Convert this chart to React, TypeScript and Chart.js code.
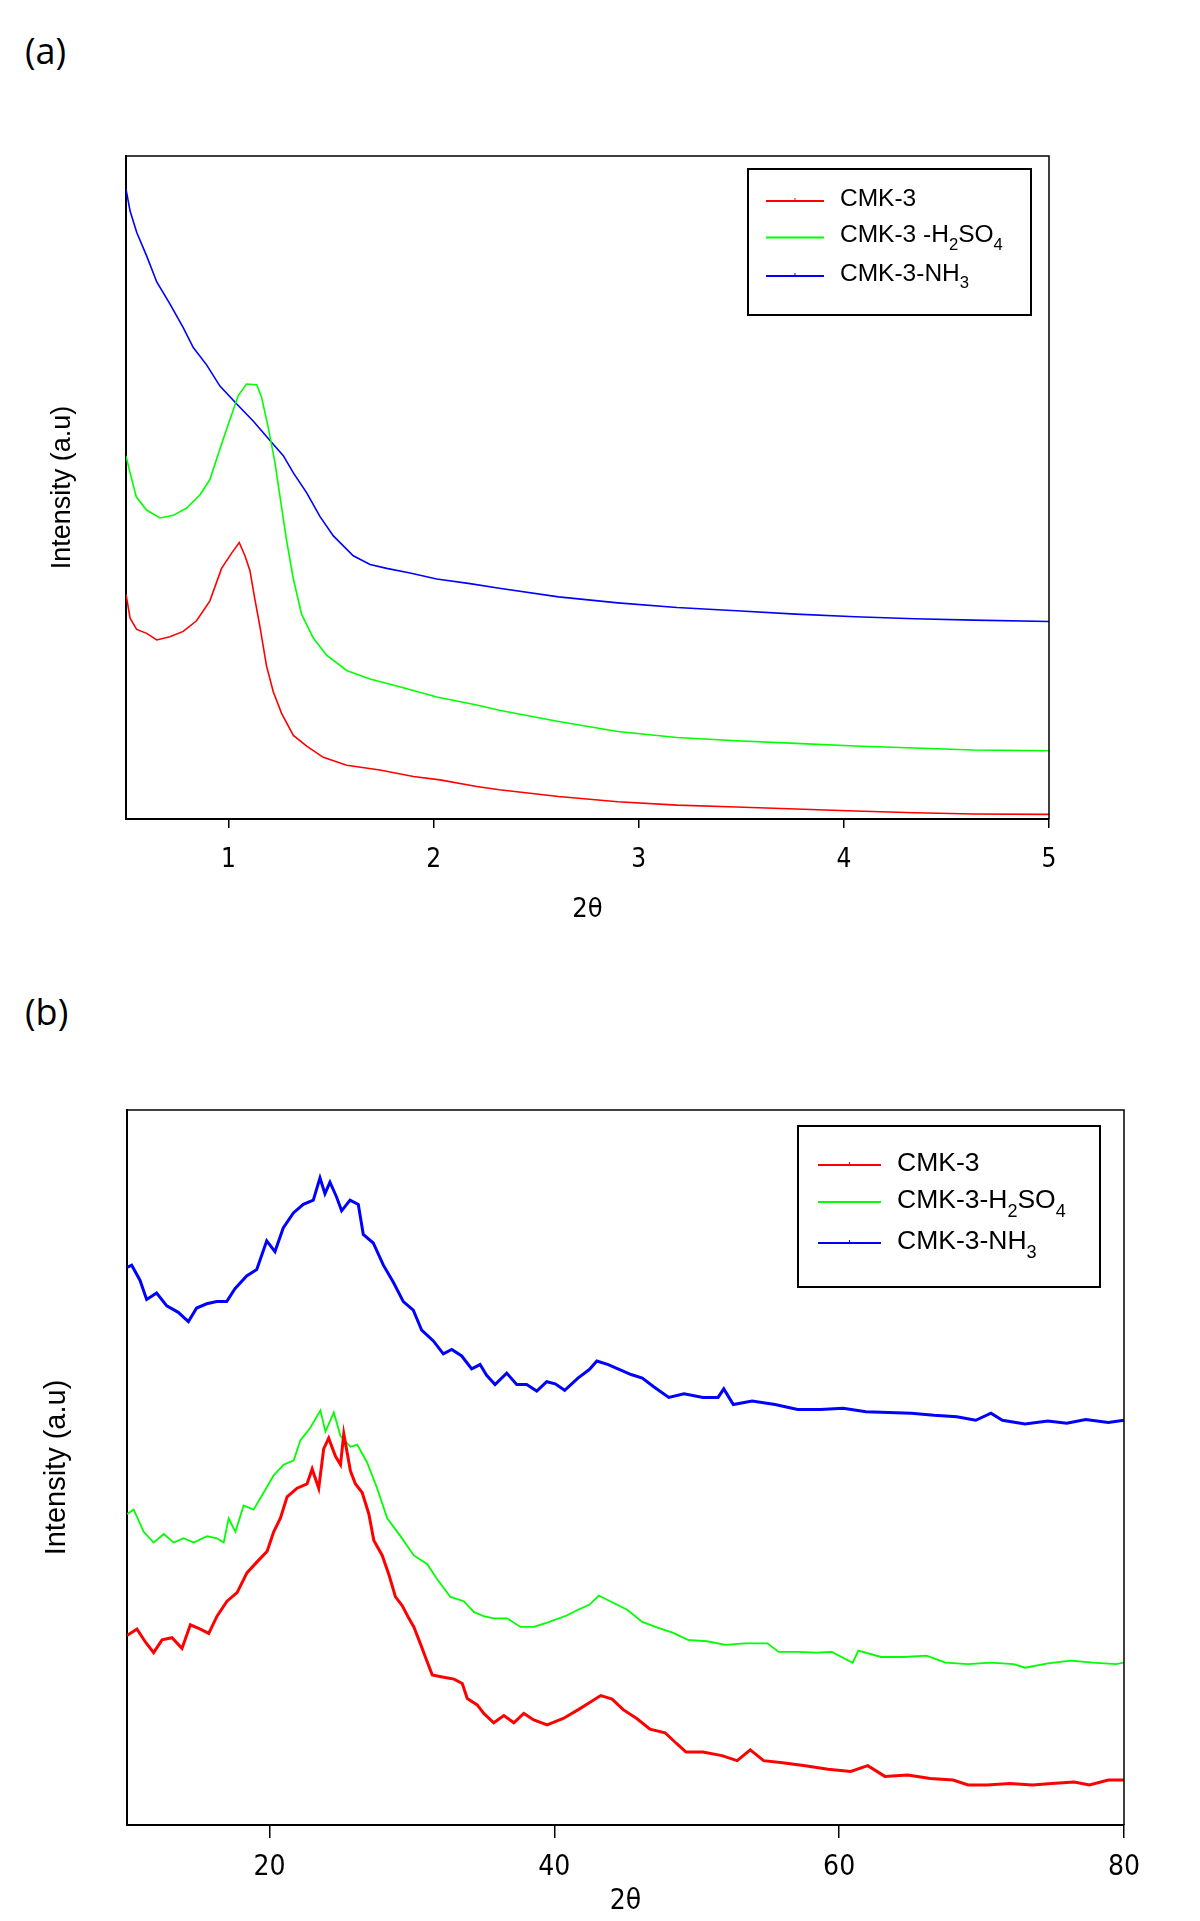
import React, { useEffect, useRef } from "react";
import { Chart, registerables } from "chart.js";

Chart.register(...registerables);

// ---------- Panel (a): low-angle XRD ----------
const aLabels = ["CMK-3", "CMK-3 -H₂SO₄", "CMK-3-NH₃"];
const aXTicks = [1, 2, 3, 4, 5];

const aRedX = [0.5, 0.52, 0.552, 0.601, 0.65, 0.714, 0.779, 0.844, 0.909, 0.966, 1.015, 1.052, 1.08, 1.104, 1.128, 1.153, 1.185, 1.218, 1.259, 1.316, 1.381, 1.462, 1.576, 1.738, 1.901, 2.031, 2.21, 2.32, 2.609, 2.898, 3.186, 3.476, 3.766, 4.055, 4.344, 4.633, 5.0];
const aRedY = [33.9, 30.3, 28.6, 28.0, 27.0, 27.5, 28.3, 29.9, 32.9, 37.8, 40.1, 41.7, 39.7, 37.5, 33.2, 29.0, 23.1, 19.2, 15.9, 12.6, 11.0, 9.3, 8.1, 7.4, 6.4, 5.9, 4.9, 4.4, 3.4, 2.6, 2.1, 1.8, 1.5, 1.2, 0.95, 0.75, 0.7];

const aGreenX = [0.5, 0.52, 0.55, 0.6, 0.666, 0.731, 0.796, 0.861, 0.909, 0.958, 1.007, 1.048, 1.088, 1.137, 1.161, 1.194, 1.226, 1.251, 1.283, 1.316, 1.356, 1.413, 1.478, 1.576, 1.69, 1.852, 2.015, 2.21, 2.32, 2.609, 2.898, 3.186, 3.476, 3.766, 4.055, 4.344, 4.633, 5.0];
const aGreenY = [54.8, 52.2, 48.6, 46.6, 45.4, 45.8, 46.9, 48.9, 51.2, 55.8, 60.3, 63.9, 65.6, 65.5, 63.6, 59.0, 53.8, 48.6, 42.0, 36.2, 30.9, 27.3, 24.7, 22.4, 21.1, 19.8, 18.4, 17.2, 16.4, 14.7, 13.2, 12.3, 11.8, 11.4, 11.0, 10.7, 10.4, 10.3];

const aBlueX = [0.5, 0.52, 0.552, 0.601, 0.65, 0.714, 0.779, 0.828, 0.893, 0.958, 1.04, 1.121, 1.202, 1.267, 1.316, 1.381, 1.446, 1.511, 1.608, 1.69, 1.771, 1.885, 2.015, 2.177, 2.32, 2.609, 2.898, 3.186, 3.476, 3.766, 4.055, 4.344, 4.633, 5.0];
const aBlueY = [95.0, 91.7, 88.5, 84.9, 81.0, 77.7, 74.1, 71.1, 68.5, 65.3, 62.6, 60.0, 57.1, 54.8, 52.2, 49.2, 45.6, 42.7, 39.7, 38.4, 37.8, 37.1, 36.2, 35.5, 34.8, 33.5, 32.6, 31.9, 31.4, 30.9, 30.5, 30.2, 30.0, 29.8];

// ---------- Panel (b): wide-angle XRD ----------
const bLabels = ["CMK-3", "CMK-3-H₂SO₄", "CMK-3-NH₃"];
const bXTicks = [20, 40, 60, 80];

const bRedX = [10.0, 10.7, 11.29, 11.87, 12.46, 13.16, 13.86, 14.45, 15.15, 15.74, 16.32, 17.02, 17.73, 18.43, 19.13, 19.84, 20.3, 20.77, 21.24, 21.94, 22.64, 23.0, 23.46, 23.81, 24.16, 24.63, 24.99, 25.22, 25.69, 26.04, 26.51, 26.98, 27.33, 27.92, 28.39, 28.85, 29.32, 29.79, 30.14, 30.61, 30.97, 31.43, 32.14, 32.96, 33.54, 33.89, 34.59, 35.05, 35.75, 36.46, 37.16, 37.86, 38.56, 39.5, 40.63, 41.66, 42.46, 43.26, 44.06, 44.86, 45.79, 46.72, 47.78, 48.58, 49.25, 50.44, 51.77, 52.84, 53.76, 54.7, 56.02, 57.62, 59.22, 60.81, 62.01, 63.21, 64.81, 66.4, 68.0, 69.06, 70.39, 71.99, 73.58, 74.91, 76.51, 77.57, 78.9, 80.0];
const bRedY = [26.5, 27.4, 25.6, 24.1, 25.9, 26.2, 24.7, 28.0, 27.4, 26.8, 29.2, 31.3, 32.5, 35.3, 36.8, 38.3, 41.0, 42.9, 45.9, 47.1, 47.7, 49.8, 47.1, 52.6, 54.1, 51.6, 50.4, 54.7, 49.5, 47.7, 46.5, 43.5, 39.8, 37.7, 35.0, 31.9, 30.7, 28.9, 27.7, 25.3, 23.4, 21.0, 20.7, 20.4, 19.8, 17.7, 16.8, 15.6, 14.3, 15.3, 14.3, 15.6, 14.7, 14.0, 14.9, 16.1, 17.1, 18.1, 17.6, 16.1, 14.9, 13.4, 12.9, 11.4, 10.2, 10.2, 9.7, 9.0, 10.5, 9.0, 8.7, 8.3, 7.8, 7.5, 8.3, 6.8, 7.0, 6.5, 6.3, 5.6, 5.6, 5.8, 5.6, 5.8, 6.0, 5.6, 6.3, 6.3];

const bGreenX = [10.0, 10.47, 11.17, 11.87, 12.58, 13.28, 13.98, 14.68, 15.62, 16.32, 16.79, 17.14, 17.61, 18.19, 18.89, 19.6, 20.3, 21.0, 21.71, 22.17, 22.88, 23.58, 23.93, 24.52, 24.99, 25.69, 26.16, 26.86, 27.56, 28.27, 29.2, 30.14, 31.07, 31.77, 32.71, 33.65, 34.35, 35.05, 35.75, 36.69, 37.63, 38.56, 39.5, 40.87, 41.66, 42.46, 43.13, 43.92, 45.12, 46.18, 47.25, 48.31, 49.38, 50.71, 52.04, 53.36, 54.96, 55.76, 57.09, 58.42, 59.49, 60.95, 61.35, 62.95, 64.54, 66.14, 67.47, 69.06, 70.66, 72.26, 73.05, 74.65, 76.25, 77.84, 79.44, 80.0];
const bGreenY = [43.5, 44.1, 41.0, 39.5, 40.7, 39.5, 40.1, 39.5, 40.4, 40.1, 39.5, 42.9, 41.0, 44.7, 44.1, 46.5, 48.9, 50.4, 51.0, 53.8, 55.6, 58.0, 55.0, 57.7, 54.4, 52.9, 53.2, 50.7, 47.1, 42.9, 40.4, 37.7, 36.5, 34.4, 31.9, 31.3, 29.8, 29.2, 28.9, 28.9, 27.7, 27.7, 28.3, 29.3, 30.1, 30.8, 32.1, 31.3, 30.1, 28.4, 27.6, 26.9, 25.9, 25.7, 25.2, 25.4, 25.4, 24.2, 24.2, 24.1, 24.2, 22.7, 24.4, 23.5, 23.5, 23.7, 22.7, 22.5, 22.7, 22.5, 22.0, 22.6, 23.0, 22.7, 22.5, 22.7];

const bBlueX = [10.0, 10.33, 10.91, 11.38, 12.08, 12.79, 13.6, 14.31, 14.89, 15.6, 16.3, 17.0, 17.58, 18.4, 19.11, 19.81, 20.39, 20.97, 21.68, 22.38, 23.08, 23.55, 23.9, 24.25, 24.72, 25.07, 25.66, 26.24, 26.59, 27.29, 28.0, 28.7, 29.4, 30.1, 30.69, 31.51, 32.21, 32.8, 33.5, 34.2, 34.79, 35.25, 35.84, 36.66, 37.36, 38.06, 38.77, 39.47, 40.07, 40.73, 41.66, 42.46, 42.99, 43.79, 44.59, 45.39, 46.18, 46.98, 48.04, 49.11, 50.44, 51.5, 51.9, 52.57, 53.89, 55.5, 57.09, 58.68, 60.28, 61.88, 63.47, 65.07, 66.66, 68.26, 69.59, 70.66, 71.46, 73.05, 74.65, 75.98, 77.31, 78.9, 80.0];
const bBlueY = [78.0, 78.3, 76.2, 73.5, 74.4, 72.6, 71.7, 70.4, 72.3, 72.9, 73.2, 73.2, 75.0, 76.8, 77.7, 81.7, 80.2, 83.5, 85.6, 86.8, 87.4, 90.5, 88.3, 89.9, 87.8, 85.9, 87.4, 86.8, 82.6, 81.4, 78.3, 75.9, 73.2, 72.0, 69.2, 67.7, 65.9, 66.5, 65.6, 63.8, 64.4, 62.9, 61.6, 63.2, 61.6, 61.6, 60.7, 62.0, 61.7, 60.8, 62.5, 63.7, 64.9, 64.4, 63.7, 63.0, 62.5, 61.3, 59.8, 60.3, 59.8, 59.8, 61.0, 58.8, 59.3, 58.8, 58.1, 58.1, 58.3, 57.8, 57.7, 57.6, 57.3, 57.1, 56.6, 57.6, 56.6, 56.1, 56.5, 56.2, 56.7, 56.3, 56.6];

const xTitle = "2θ";
const yTitle = "Intensity (a.u)";

const NARROW = '"Liberation Sans Narrow", "DejaVu Sans Condensed", "Liberation Sans", Arial, sans-serif';
const SANS = '"Liberation Sans", Arial, sans-serif';

const zip = (xs: number[], ys: number[]) => xs.map((x, i) => ({ x, y: ys[i] }));

function drawRich(ctx: CanvasRenderingContext2D, text: string, x: number, y: number, size: number, family: string) {
  ctx.textBaseline = "middle";
  ctx.textAlign = "left";
  ctx.fillStyle = "#000";
  let cx = x;
  for (const ch of text) {
    const code = ch.codePointAt(0) || 0;
    if (code >= 0x2080 && code <= 0x2089) {
      ctx.font = `${size * 0.68}px ${family}`;
      const d = String(code - 0x2080);
      ctx.fillText(d, cx, y + size * 0.4);
      cx += ctx.measureText(d).width;
    } else {
      ctx.font = `${size}px ${family}`;
      ctx.fillText(ch, cx, y);
      cx += ctx.measureText(ch).width;
    }
  }
}

const boxLegend = {
  id: "boxLegend",
  afterDatasetsDraw(chart: any, _args: any, o: any) {
    const { ctx, chartArea } = chart;
    const x0 = chartArea.right - o.right - o.width;
    const y0 = chartArea.top + o.top;
    ctx.save();
    ctx.fillStyle = "#fff";
    ctx.fillRect(x0, y0, o.width, o.height);
    ctx.lineWidth = 2;
    ctx.strokeStyle = "#000";
    ctx.strokeRect(x0, y0, o.width, o.height);
    chart.data.datasets.forEach((ds: any, i: number) => {
      const ty = y0 + o.rows[i];
      const ly = ty + o.lineDy;
      ctx.strokeStyle = ds.borderColor;
      ctx.lineWidth = 2;
      ctx.beginPath();
      ctx.moveTo(x0 + o.lineX0, ly);
      ctx.lineTo(x0 + o.lineX1, ly);
      ctx.stroke();
      if (o.markers[i]) {
        const mx = x0 + (o.lineX0 + o.lineX1) / 2;
        ctx.lineWidth = 1;
        ctx.beginPath();
        ctx.moveTo(mx, ly - 3);
        ctx.lineTo(mx, ly);
        ctx.stroke();
      }
      drawRich(ctx, ds.label, x0 + o.textX, ty, o.fontSize, SANS);
    });
    ctx.restore();
  },
};

const framePlugin = {
  id: "frame",
  afterDatasetsDraw(chart: any, _args: any, o: any) {
    const { ctx, chartArea } = chart;
    const { left, top, right, bottom } = chartArea;
    ctx.save();
    ctx.strokeStyle = "#000";
    ctx.lineWidth = o.width || 1.5;
    ctx.beginPath();
    ctx.moveTo(left, top);
    ctx.lineTo(right, top);
    ctx.lineTo(right, bottom);
    ctx.stroke();
    ctx.restore();
  },
};

type PanelCfg = {
  height: number;
  padTop: number;
  padRight: number;
  yAxisWidth: number;
  xAxisHeight: number;
  xMin: number;
  xMax: number;
  xTicks: number[];
  tickLength: number;
  tickFont: number;
  tickPad: number;
  xTitleFont: number;
  xTitlePad: number;
  yTitleFont: number;
  yTitlePad: number;
  datasets: any[];
  legend: any;
};

function makeConfig(p: PanelCfg): any {
  return {
    type: "line",
    data: { datasets: p.datasets },
    options: {
      responsive: false,
      animation: false,
      devicePixelRatio: 1,
      layout: { padding: { top: p.padTop, right: p.padRight, left: 0, bottom: 0 } },
      elements: { point: { radius: 0 }, line: { tension: 0 } },
      plugins: {
        legend: { display: false },
        tooltip: { enabled: false },
        boxLegend: p.legend,
        frame: { width: 1.5 },
      },
      scales: {
        x: {
          type: "linear",
          min: p.xMin,
          max: p.xMax,
          afterFit: (s: any) => {
            s.height = p.xAxisHeight;
          },
          afterBuildTicks: (s: any) => {
            s.ticks = p.xTicks.map((v) => ({ value: v }));
          },
          grid: {
            display: true,
            drawOnChartArea: false,
            drawTicks: true,
            tickLength: p.tickLength,
            color: "#000",
            lineWidth: 1.5,
          },
          border: { display: true, color: "#000", width: 2 },
          ticks: {
            color: "#000",
            font: { family: NARROW, size: p.tickFont },
            padding: p.tickPad,
            maxRotation: 0,
            autoSkip: false,
          },
          title: {
            display: true,
            text: xTitle,
            color: "#000",
            font: { family: NARROW, size: p.xTitleFont },
            padding: { top: 0, bottom: p.xTitlePad },
          },
        },
        y: {
          type: "linear",
          min: 0,
          max: 100,
          afterFit: (s: any) => {
            s.width = p.yAxisWidth;
          },
          grid: { display: false },
          border: { display: true, color: "#000", width: 2 },
          ticks: { display: false },
          title: {
            display: true,
            text: yTitle,
            color: "#000",
            font: { family: SANS, size: p.yTitleFont },
            padding: { top: p.yTitlePad, bottom: 0 },
          },
        },
      },
    },
    plugins: [framePlugin, boxLegend],
  };
}

const panelA: PanelCfg = {
  height: 950,
  padTop: 156,
  padRight: 151,
  yAxisWidth: 126,
  xAxisHeight: 131,
  xMin: 0.5,
  xMax: 5,
  xTicks: aXTicks,
  tickLength: 9,
  tickFont: 26,
  tickPad: 17,
  xTitleFont: 27,
  xTitlePad: 24,
  yTitleFont: 27,
  yTitlePad: 46,
  datasets: [
    { label: aLabels[0], data: zip(aRedX, aRedY), borderColor: "#ff0000", borderWidth: 1.6 },
    { label: aLabels[1], data: zip(aGreenX, aGreenY), borderColor: "#00ff00", borderWidth: 1.6 },
    { label: aLabels[2], data: zip(aBlueX, aBlueY), borderColor: "#0000ff", borderWidth: 1.6 },
  ],
  legend: {
    right: 18,
    top: 13,
    width: 283,
    height: 146,
    lineX0: 18,
    lineX1: 76,
    textX: 92,
    rows: [30, 66.5, 105],
    lineDy: 2,
    fontSize: 24.5,
    markers: [true, false, true],
  },
};

const panelB: PanelCfg = {
  height: 961,
  padTop: 150,
  padRight: 76,
  yAxisWidth: 127,
  xAxisHeight: 96,
  xMin: 10,
  xMax: 80,
  xTicks: bXTicks,
  tickLength: 13,
  tickFont: 28,
  tickPad: 13,
  xTitleFont: 28,
  xTitlePad: 2,
  yTitleFont: 29,
  yTitlePad: 40,
  datasets: [
    { label: bLabels[0], data: zip(bRedX, bRedY), borderColor: "#ff0000", borderWidth: 3 },
    { label: bLabels[1], data: zip(bGreenX, bGreenY), borderColor: "#00ff00", borderWidth: 1.8 },
    { label: bLabels[2], data: zip(bBlueX, bBlueY), borderColor: "#0000ff", borderWidth: 3 },
  ],
  legend: {
    right: 24,
    top: 16,
    width: 302,
    height: 161,
    lineX0: 20,
    lineX1: 83,
    textX: 99,
    rows: [38, 75, 116],
    lineDy: 1,
    fontSize: 26.5,
    markers: [true, false, true],
  },
};

function Panel({ cfg, top }: { cfg: PanelCfg; top: number }) {
  const ref = useRef<HTMLCanvasElement>(null);
  useEffect(() => {
    if (!ref.current) return;
    const chart = new Chart(ref.current, makeConfig(cfg));
    return () => chart.destroy();
  }, [cfg]);
  return (
    <canvas
      ref={ref}
      width={1200}
      height={cfg.height}
      style={{ position: "absolute", left: 0, top, width: 1200, height: cfg.height }}
    />
  );
}

const labelStyle: React.CSSProperties = {
  position: "absolute",
  left: 25,
  fontFamily: '"Open Sans", "Noto Sans", sans-serif',
  fontSize: 36,
  lineHeight: "36px",
  color: "#000",
};

export default function App() {
  return (
    <div style={{ position: "absolute", left: 0, top: 0, width: 1200, height: 1921, background: "#fff", overflow: "hidden" }}>
      <div style={{ ...labelStyle, top: 33 }}>(a)</div>
      <Panel cfg={panelA} top={0} />
      <div style={{ ...labelStyle, top: 994 }}>(b)</div>
      <Panel cfg={panelB} top={960} />
    </div>
  );
}
